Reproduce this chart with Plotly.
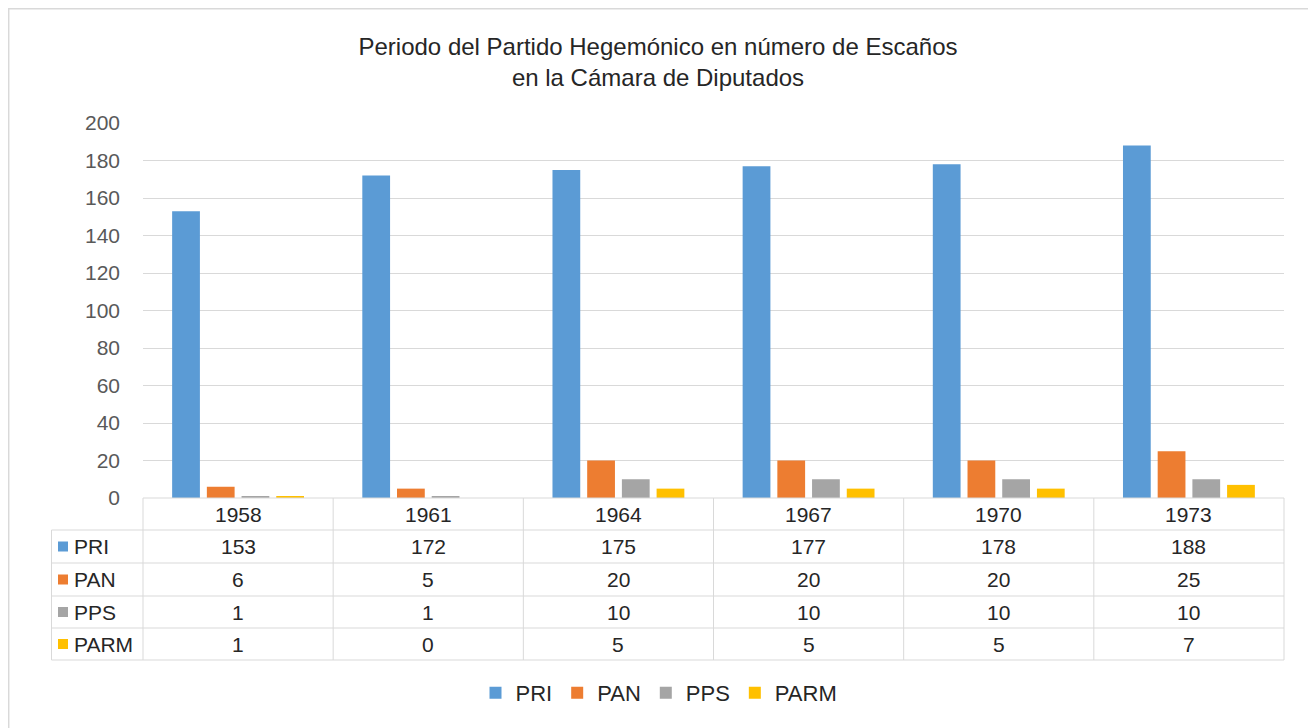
import plotly.graph_objects as go

years = ["1958", "1961", "1964", "1967", "1970", "1973"]
parties = ["PRI", "PAN", "PPS", "PARM"]
pri = [153, 172, 175, 177, 178, 188]
pan = [6, 5, 20, 20, 20, 25]
pps = [1, 1, 10, 10, 10, 10]
parm = [1, 0, 5, 5, 5, 7]
series = [pri, pan, pps, parm]
colors = ["#5B9BD5", "#ED7D31", "#A5A5A5", "#FFC000"]
title_lines = ["Periodo del Partido Hegemónico en número de Escaños", "en la Cámara de Diputados"]

# page body has an 8px margin, so the figure is drawn 8px smaller and offset
OFF = 8
W, H = 1316 - OFF, 728 - OFF
L, R, T, B = 143 - OFF, 32, 123 - OFF, 230
PW, PH = W - L - R, H - T - B
FONT = "Liberation Sans, Arial, sans-serif"
GRID = "#D9D9D9"
TXT = "#262626"

def px2x(px):  # reference pixel -> paper x
    return (px - OFF - L) / PW

def py2y(py):  # reference pixel -> paper y
    return (H - B - (py - OFF)) / PH

fig = go.Figure()
for name, vals, col in zip(parties, series, colors):
    fig.add_trace(go.Bar(x=years, y=vals, name=name, marker=dict(color=col, line=dict(width=0))))

shapes = []
annotations = []

row_edges = [498, 530, 563, 596, 628, 660]
left_px = 51.5
n = len(years)
shapes.append(dict(type="line", xref="paper", yref="paper", x0=0, x1=1, y0=py2y(row_edges[0]), y1=py2y(row_edges[0]),
                   line=dict(color=GRID, width=1)))
for e in row_edges[1:]:
    shapes.append(dict(type="line", xref="paper", yref="paper", x0=px2x(left_px), x1=1, y0=py2y(e), y1=py2y(e),
                       line=dict(color=GRID, width=1)))
shapes.append(dict(type="line", xref="paper", yref="paper", x0=px2x(left_px), x1=px2x(left_px),
                   y0=py2y(row_edges[1]), y1=py2y(row_edges[-1]), line=dict(color=GRID, width=1)))
for i in range(n + 1):
    xv = i / n
    shapes.append(dict(type="line", xref="paper", yref="paper", x0=xv, x1=xv, y0=py2y(row_edges[0]),
                       y1=py2y(row_edges[-1]), line=dict(color=GRID, width=1)))

for i, yr in enumerate(years):
    annotations.append(dict(x=(i + 0.5) / n, xref="paper", yref="paper", y=py2y((row_edges[0] + row_edges[1]) / 2),
                            text=yr, showarrow=False, font=dict(family=FONT, size=21, color=TXT),
                            xanchor="center", yanchor="middle"))
for r, (name, vals, col) in enumerate(zip(parties, series, colors)):
    ymid = (row_edges[r + 1] + row_edges[r + 2]) / 2
    shapes.append(dict(type="rect", xref="paper", yref="paper", x0=px2x(58), x1=px2x(68),
                       y0=py2y(ymid + 5), y1=py2y(ymid - 5), fillcolor=col, line=dict(width=0)))
    annotations.append(dict(x=px2x(72), xref="paper", yref="paper", y=py2y(ymid), text=name, showarrow=False,
                            font=dict(family=FONT, size=21, color=TXT), xanchor="left", yanchor="middle"))
    for i, v in enumerate(vals):
        annotations.append(dict(x=(i + 0.5) / n, xref="paper", yref="paper", y=py2y(ymid), text=str(v),
                                showarrow=False, font=dict(family=FONT, size=21, color=TXT),
                                xanchor="center", yanchor="middle"))

# outer frame
shapes.append(dict(type="rect", xref="paper", yref="paper", x0=px2x(8.7), x1=px2x(1311.5), y0=py2y(8.7), y1=py2y(740),
                   line=dict(color=GRID, width=1.5), fillcolor="rgba(0,0,0,0)"))

fig.update_layout(
    width=W, height=H,
    margin=dict(l=L, r=R, t=T, b=B),
    paper_bgcolor="white", plot_bgcolor="white",
    barmode="group", bargap=0.27, bargroupgap=0.2,
    title=dict(text="<br>".join(title_lines), x=(658 - OFF) / W, xref="container", xanchor="center",
               y=1 - (55 - OFF) / H, yref="container", yanchor="middle",
               font=dict(family=FONT, size=24, color=TXT)),
    xaxis=dict(type="category", range=[-0.5, n - 0.5], showticklabels=False, showgrid=False, showline=False,
               zeroline=False, ticks=""),
    yaxis=dict(range=[0, 200], dtick=20, showgrid=True, gridcolor=GRID, gridwidth=1,
               zeroline=False, showline=False, ticks="", ticklabelstandoff=22,
               tickfont=dict(family=FONT, size=21, color="#595959")),
    legend=dict(orientation="h", xref="container", x=(659 - OFF) / W, xanchor="center", yref="container",
                y=1 - (693 - OFF) / H, yanchor="middle", font=dict(family=FONT, size=22, color=TXT),
                itemwidth=30, traceorder="normal"),
    shapes=shapes, annotations=annotations,
)

fig.write_html("out.html")
